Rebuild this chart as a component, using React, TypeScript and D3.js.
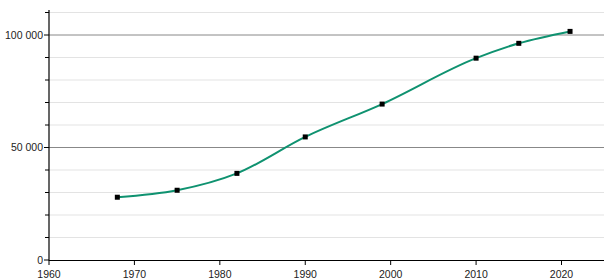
import React from "react";
import * as d3 from "d3";

const years = [1968, 1975, 1982, 1990, 1999, 2010, 2015, 2021];
const population = [27900, 31000, 38500, 54700, 69300, 89700, 96300, 101600];
const xTicks = [1960, 1970, 1980, 1990, 2000, 2010, 2020];
const yMajorTicks = [0, 50000, 100000];
const yMinorTicks = [10000, 20000, 30000, 40000, 60000, 70000, 80000, 90000, 110000];

const W = 615;
const H = 280;

export default function App() {
  const x = d3.scaleLinear().domain([1960, 2020]).range([49, 561.5]);
  const y = d3.scaleLinear().domain([0, 100000]).range([260, 35]);
  const xEnd = 604;
  const yTop = 10;
  const fmt = (v: number) => d3.format(",")(v).replace(/,/g, " ");
  const line = d3
    .line<number>()
    .x((_, i) => x(years[i]))
    .y((d) => y(d))
    .curve(d3.curveMonotoneX);

  return (
    <svg
      width={W}
      height={H}
      style={{ position: "absolute", left: 0, top: 0, fontFamily: "Liberation Sans, Arial, sans-serif" }}
    >
      <rect width={W} height={H} fill="#fff" />
      {yMinorTicks.map((t) => (
        <g key={"mn" + t}>
          <line x1={49} x2={xEnd} y1={y(t)} y2={y(t)} stroke="#e3e3e3" strokeWidth={1} />
          <line x1={45} x2={49} y1={y(t)} y2={y(t)} stroke="#000" strokeWidth={1} />
        </g>
      ))}
      {yMajorTicks.map((t) => (
        <g key={"mj" + t}>
          {t > 0 && <line x1={49} x2={xEnd} y1={y(t)} y2={y(t)} stroke="#888" strokeWidth={1} />}
          <line x1={44} x2={49} y1={y(t)} y2={y(t)} stroke="#000" strokeWidth={1} />
          <text x={43} y={y(t)} dy="0.35em" textAnchor="end" fontSize={10.5} fill="#222">
            {fmt(t)}
          </text>
        </g>
      ))}
      <line x1={49} x2={49} y1={yTop} y2={260.5} stroke="#000" strokeWidth={1.2} />
      <line x1={49} x2={xEnd} y1={260.5} y2={260.5} stroke="#000" strokeWidth={1.2} />
      {xTicks.map((t) => (
        <g key={"x" + t}>
          <line x1={x(t)} x2={x(t)} y1={260} y2={265} stroke="#000" strokeWidth={1} />
          <text x={x(t)} y={274.5} dy="0.35em" textAnchor="middle" fontSize={10.5} fill="#222">
            {t}
          </text>
        </g>
      ))}
      <path d={line(population) || ""} fill="none" stroke="#0f9270" strokeWidth={2} />
      {population.map((v, i) => (
        <rect key={i} x={x(years[i]) - 2.5} y={y(v) - 2.5} width={5} height={5} fill="#000" />
      ))}
    </svg>
  );
}
